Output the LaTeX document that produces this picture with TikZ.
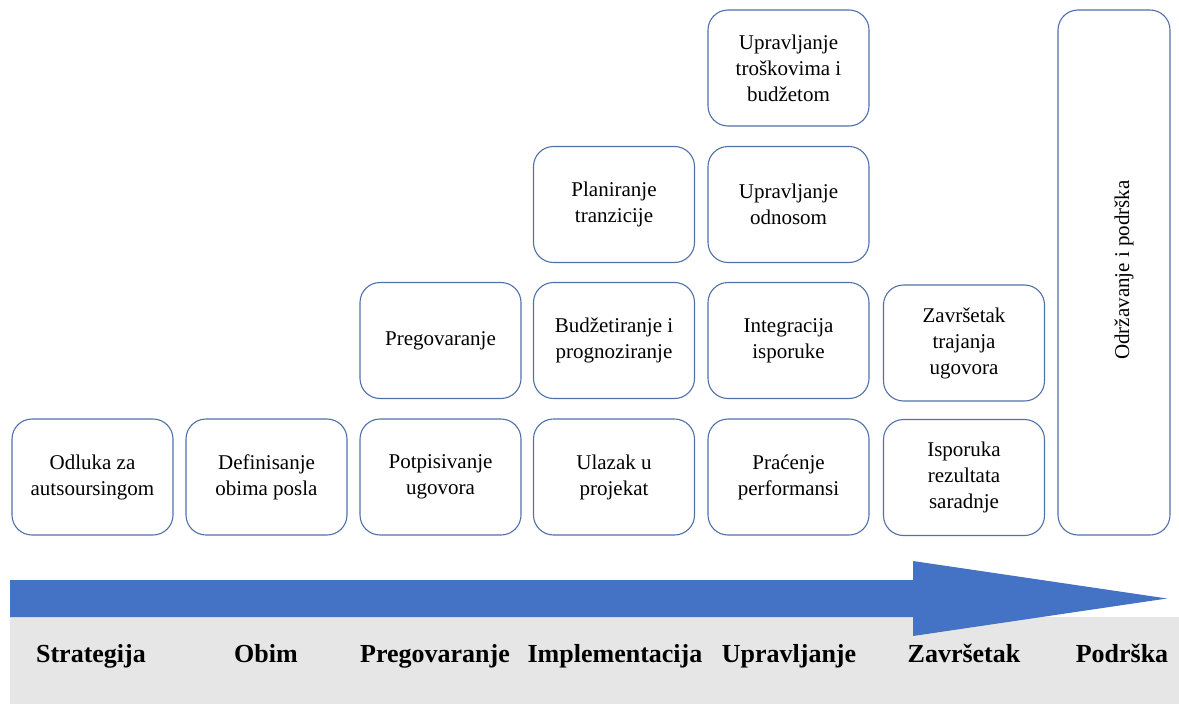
\documentclass[tikz,border=0pt]{standalone}
\usepackage{fontspec}
\setmainfont{Liberation Serif}
\definecolor{boxline}{RGB}{82,112,168}
\definecolor{arrowblue}{HTML}{4472C4}
\definecolor{bandgray}{HTML}{E6E6E6}
\begin{document}
\begin{tikzpicture}[x=1pt,y=-1pt,
  stagebox/.style={draw=boxline, line width=1.1pt, fill=white, rounded corners=20pt,
    minimum width=161pt, minimum height=116pt, align=center, inner sep=4pt,
    font=\fontsize{21}{26}\selectfont},
  phase/.style={anchor=base, font=\fontsize{26}{30}\selectfont\bfseries}]
\useasboundingbox (0,0) rectangle (1179,704);

% grey band under the timeline
\fill[bandgray] (10,617) rectangle (1179,704);

% timeline arrow
\fill[arrowblue] (10,580) -- (913,580) -- (913,561) -- (1167,598.5)
  -- (913,636) -- (913,617) -- (10,617) -- cycle;

% column 1
\node[stagebox] (odluka) at (92.5,477) {Odluka za\\autsoursingom};
% column 2
\node[stagebox] (definisanje) at (266.5,477) {Definisanje\\obima posla};
% column 3
\node[stagebox] (potpis) at (440.5,477) {Potpisivanje\\ugovora};
\node[stagebox] (pregov) at (440.5,340.5) {Pregovaranje};
% column 4
\node[stagebox] (ulazak) at (614,477) {Ulazak u\\projekat};
\node[stagebox] (budzet) at (614,340.5) {Budžetiranje i\\prognoziranje};
\node[stagebox] (planiranje) at (614,204.5) {Planiranje\\tranzicije};
% column 5
\node[stagebox] (pracenje) at (788.5,477) {Praćenje\\performansi};
\node[stagebox] (integracija) at (788.5,340.5) {Integracija\\isporuke};
\node[stagebox] (odnos) at (788.5,204.5) {Upravljanje\\odnosom};
\node[stagebox] (troskovi) at (788.5,68) {Upravljanje\\troškovima i\\budžetom};
% column 6
\node[stagebox] (isporuka) at (964,477.5) {Isporuka\\rezultata\\saradnje};
\node[stagebox] (zavrsetak) at (964,343) {Završetak\\trajanja\\ugovora};
% column 7: tall support box
\node[stagebox, minimum width=112pt, minimum height=525pt] (podrska) at (1114,272.5) {};
\node[rotate=90, font=\fontsize{21}{26}\selectfont] (podrskatxt) at (1124,270) {Održavanje i podrška};

% phase labels
\node[phase] (p1) at (91,662) {Strategija};
\node[phase] (p2) at (266,662) {Obim};
\node[phase] (p3) at (435,662) {Pregovaranje};
\node[phase] (p4) at (615,662) {Implementacija};
\node[phase] (p5) at (789,662) {Upravljanje};
\node[phase] (p6) at (964,662) {Završetak};
\node[phase] (p7) at (1122,662) {Podrška};
\end{tikzpicture}
\end{document}
